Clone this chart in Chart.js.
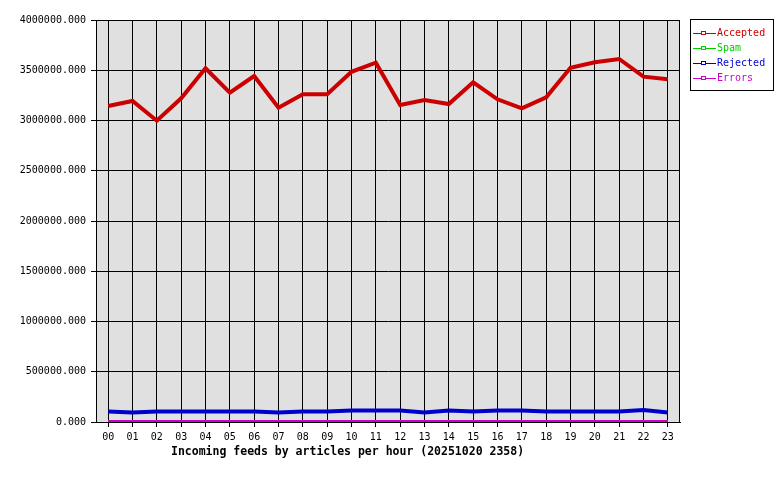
<!DOCTYPE html>
<html>
<head>
<meta charset="utf-8">
<script src="https://cdn.jsdelivr.net/npm/chart.js@4/dist/chart.umd.min.js"></script>
<style>
  body { margin: 0; background: #fff; }
  canvas { display: block; }
</style>
</head>
<body>
<canvas id="feeds" width="780" height="480"></canvas>
<script>
const hours = ['00', '01', '02', '03', '04', '05', '06', '07', '08', '09', '10', '11',
    '12', '13', '14', '15', '16', '17', '18', '19', '20', '21', '22', '23'];
const accepted = [3144000, 3194000, 2998000, 3221000, 3519000, 3277000, 3443000, 3127000,
    3261000, 3261000, 3485000, 3575000, 3154000, 3204000, 3164000, 3380000, 3211000, 3121000,
    3231000, 3525000, 3579000, 3612000, 3436000, 3410000];
const spam = [0, 0, 0, 0, 0, 0, 0, 0, 0, 0, 0, 0, 0, 0, 0, 0, 0, 0, 0, 0, 0, 0, 0, 0];
const rejected = [105000, 95000, 105000, 105000, 105000, 105000, 105000, 95000, 105000, 105000,
    115000, 115000, 115000, 95000, 115000, 105000, 115000, 115000, 105000, 105000, 105000,
    105000, 120000, 95000];
const errors = [5000, 5000, 5000, 5000, 5000, 5000, 5000, 5000, 5000, 5000, 5000, 5000,
    5000, 5000, 5000, 5000, 5000, 5000, 5000, 5000, 5000, 5000, 5000, 5000];
const yTicks = {min: 0, max: 4000000, step: 500000};
const chartTitle = 'Incoming feeds by articles per hour (20251020 2358)';

const mono = 'DejaVu Sans Mono';

const backdropPlugin = {
    id: 'backdrop',
    beforeDraw: chart => {
        const {ctx, chartArea: a} = chart;
        ctx.save();
        ctx.fillStyle = '#e0e0e0';
        ctx.fillRect(a.left, a.top, a.right - a.left, a.bottom - a.top);
        ctx.restore();
    },
    afterDraw: chart => {
        const {ctx, chartArea: a} = chart;
        ctx.save();
        // frame round the plot
        ctx.strokeStyle = '#000';
        ctx.lineWidth = 1;
        ctx.strokeRect(a.left + 0.5, a.top + 0.5, a.right - a.left - 1, a.bottom - a.top);

        // title under the x axis
        ctx.fillStyle = '#000';
        ctx.font = 'bold 11.5px "' + mono + '"';
        ctx.textBaseline = 'middle';
        ctx.textAlign = 'left';
        ctx.fillText(chartTitle, 171, 452);

        // legend box
        const bx = 690, by = 19, bw = 83, bh = 71;
        ctx.fillStyle = '#fff';
        ctx.fillRect(bx, by, bw, bh);
        ctx.strokeRect(bx + 0.5, by + 0.5, bw, bh);
        ctx.font = '10px "' + mono + '"';
        chart.data.datasets.forEach((ds, i) => {
            const y = 33 + i * 15;
            ctx.strokeStyle = ds.borderColor;
            ctx.beginPath();
            ctx.moveTo(693, y + 0.5);
            ctx.lineTo(716, y + 0.5);
            ctx.stroke();
            ctx.fillStyle = '#fff';
            ctx.fillRect(702, y - 1, 3, 3);
            ctx.strokeRect(701.5, y - 1.5, 4, 3);
            ctx.fillStyle = ds.borderColor;
            ctx.fillText(ds.label, 717, y);
        });
        ctx.restore();
    }
};

Chart.register(backdropPlugin);

const line = (label, data, color, width, order) => ({
    label: label,
    data: data,
    borderColor: color,
    backgroundColor: color,
    borderWidth: width,
    pointRadius: 0,
    tension: 0,
    order: order
});

new Chart(document.getElementById('feeds'), {
    type: 'line',
    data: {
        labels: hours,
        datasets: [
            line('Accepted', accepted, '#cc0000', 4, 0),
            line('Spam', spam, '#00cc00', 3, 2),
            line('Rejected', rejected, '#0000cc', 4, 1),
            line('Errors', errors, '#cc00cc', 3, -1)
        ]
    },
    options: {
        responsive: false,
        animation: false,
        layout: {
            padding: {top: 20, right: 100, left: 0, bottom: 0}
        },
        scales: {
            x: {
                offset: true,
                afterFit: scale => { scale.height = 58; },
                grid: {
                    offset: false,
                    color: '#000',
                    lineWidth: 1,
                    tickLength: 5,
                    drawOnChartArea: true
                },
                border: {display: true, color: '#000'},
                ticks: {
                    color: '#000',
                    padding: 4,
                    maxRotation: 0,
                    autoSkip: false,
                    font: {family: mono, size: 10}
                }
            },
            y: {
                min: yTicks.min,
                max: yTicks.max,
                afterFit: scale => { scale.width = 96; },
                grid: {
                    color: '#000',
                    lineWidth: 1,
                    tickLength: 5
                },
                border: {display: true, color: '#000'},
                ticks: {
                    stepSize: yTicks.step,
                    color: '#000',
                    padding: 5,
                    font: {family: mono, size: 10},
                    callback: value => value.toFixed(3)
                }
            }
        },
        plugins: {
            legend: {display: false},
            title: {display: false},
            tooltip: {enabled: false}
        }
    }
});
</script>
</body>
</html>
